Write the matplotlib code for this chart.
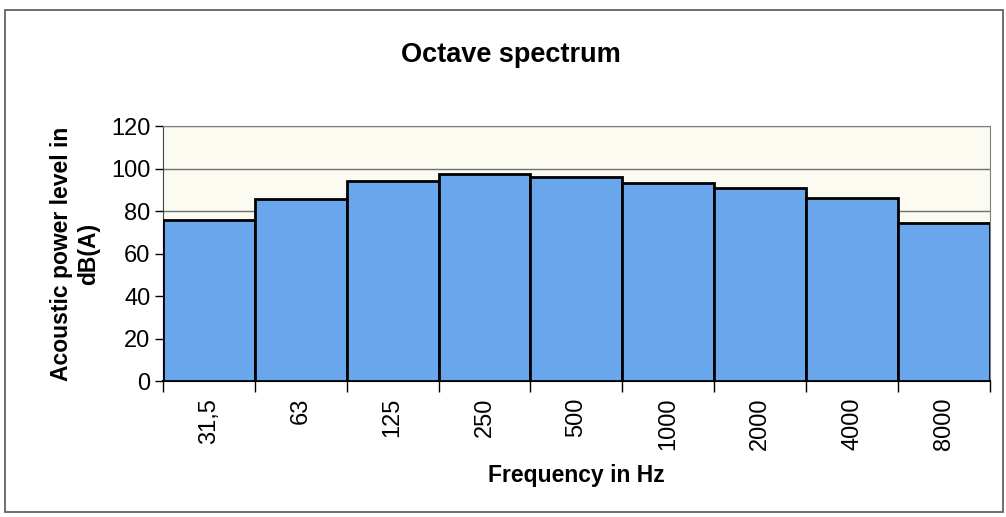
import matplotlib

matplotlib.use("Agg")
import matplotlib.pyplot as plt  # noqa: E402
from matplotlib.patches import Rectangle  # noqa: E402

plt.rcParams["font.family"] = ["Liberation Sans", "DejaVu Sans"]

# Octave band centre frequencies and sound power levels
bands = ["31,5", "63", "125", "250", "500", "1000", "2000", "4000", "8000"]
levels = [76, 85.5, 94, 97.5, 96, 93.3, 91, 86, 74.5]
yticks = [0, 20, 40, 60, 80, 100, 120]

BAR = "#6aa6ec"
BG = "#fbfbf1"

fig = plt.figure(figsize=(10.06, 5.17), dpi=100)
ax = fig.add_axes([0.162, 0.263, 0.822, 0.493])
ax.set_facecolor(BG)

x = range(len(bands))
ax.bar(x, levels, width=1.0, color=BAR, edgecolor="black", linewidth=2.0, zorder=3)

ax.set_xlim(-0.5, len(bands) - 0.5)
ax.set_ylim(0, 120)
ax.set_yticks(yticks)
ax.tick_params(axis="y", labelsize=17, length=6, width=1, direction="out", pad=3)
ax.yaxis.grid(True, color="#707070", linewidth=1, zorder=0)

# category labels centred, ticks on the boundaries
ax.set_xticks(list(x))
ax.set_xticklabels(bands, rotation=90, fontsize=17)
ax.tick_params(axis="x", length=0, pad=12)
ax.set_xticks([i - 0.5 for i in range(len(bands) + 1)], minor=True)
ax.tick_params(axis="x", which="minor", length=8, width=1, direction="out")

for side in ("top", "right"):
    ax.spines[side].set_color("#808080")
ax.spines["left"].set_color("#444444")
ax.spines["bottom"].set_color("black")
ax.spines["bottom"].set_linewidth(1.5)

ax.set_ylabel("Acoustic power level in\ndB(A)", fontsize=16.5, fontweight="bold", labelpad=8)
ax.set_xlabel("Frequency in Hz", fontsize=16.5, fontweight="bold", labelpad=10)
fig.text(0.508, 0.893, "Octave spectrum", ha="center", va="center",
         fontsize=19.5, fontweight="bold")

# outer chart frame
fig.patches.append(Rectangle((5 / 1006, 5 / 517), 998 / 1006, 502 / 517,
                             transform=fig.transFigure, fill=False,
                             edgecolor="#555555", linewidth=1.2))

fig.savefig("out.png", dpi=100)
